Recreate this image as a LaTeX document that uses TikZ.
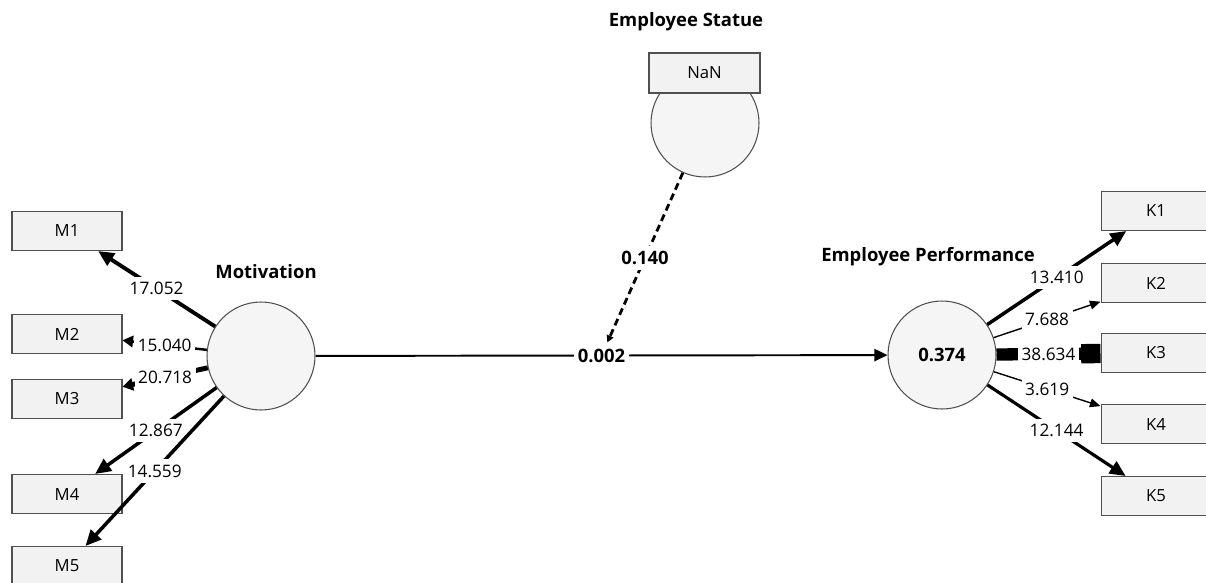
\documentclass[tikz,border=0pt]{standalone}
\usepackage{fontspec}
\setmainfont{Open Sans}
\usetikzlibrary{arrows.meta}
\definecolor{boxfill}{HTML}{F2F2F2}
\definecolor{circfill}{HTML}{F5F5F5}
\definecolor{edgecol}{HTML}{505050}
\begin{document}
\begin{tikzpicture}[x=0.02cm,y=-0.02cm,
  ind/.style={draw=edgecol, fill=boxfill, line width=0.6pt, minimum width=2.2cm, minimum height=0.78cm, inner sep=0pt, font=\fontsize{9.5}{11}\selectfont},
  lat/.style={circle, draw=edgecol, fill=circfill, line width=0.6pt, minimum size=2.16cm, inner sep=0pt, font=\bfseries\fontsize{10.5}{12}\selectfont},
  ttl/.style={font=\bfseries\fontsize{10.5}{12}\selectfont},
  lbl/.style={fill=white, inner xsep=2pt, inner ysep=3pt, font=\fontsize{9.8}{11}\selectfont},
  blbl/.style={fill=white, inner xsep=2pt, inner ysep=3pt, font=\bfseries\fontsize{10.5}{12}\selectfont},
  bighead/.style={-{Triangle[length=9pt,width=8pt]}},
  midhead/.style={-{Triangle[length=6pt,width=6.5pt]}},
  smallhead/.style={-{Triangle[length=6pt,width=5pt]}},
  blockhead/.style={-{Rectangle[length=11pt,width=11pt]}}
]
\useasboundingbox (0,0) rectangle (1206,582);
\clip (0,0) rectangle (1206,582);

% latent variables
\node[lat] (mot) at (261,356) {};
\node[lat] (perf) at (942,355) {0.374};
\node[lat] (stat) at (705,123) {};
\node[ind, minimum width=2.22cm, minimum height=0.8cm] (nan) at (704.5,73) {NaN};

% titles
\node[ttl] (tmot) at (266,272) {Motivation};
\node[ttl] (tperf) at (928,257) {Employee Performance};
\node[ttl] (tstat) at (686,22) {Employee Statue};

% indicators
\node[ind] (m1) at (67,231) {M1};
\node[ind] (m2) at (67,334) {M2};
\node[ind] (m3) at (67,399) {M3};
\node[ind] (m4) at (67,494) {M4};
\node[ind] (m5) at (67,566) {M5};
\node[ind] (k1) at (1156,211) {K1};
\node[ind] (k2) at (1156,283) {K2};
\node[ind] (k3) at (1156,353) {K3};
\node[ind] (k4) at (1156,424) {K4};
\node[ind] (k5) at (1156,496) {K5};

% outer loadings (Motivation)
\draw[line width=2.2pt, bighead] (mot) -- node[lbl] {17.052} (m1);
\draw[line width=1.4pt, midhead] (mot) -- node[lbl] {15.040} (m2);
\draw[line width=2.8pt, -{Triangle[length=6pt,width=7pt]}] (mot) -- node[lbl] {20.718} (m3);
\draw[line width=2pt, bighead] (mot) -- node[lbl] {12.867} (m4);
\draw[line width=2pt, bighead] (mot) -- node[lbl] {14.559} (m5);

% outer loadings (Employee Performance)
\draw[line width=2pt, bighead] (perf) -- node[lbl] {13.410} (k1);
\draw[line width=0.8pt, smallhead] (perf) -- node[lbl] {7.688} (k2);
\draw[line width=7pt, blockhead] (perf) -- node[lbl] {38.634} (k3);
\draw[line width=0.8pt, smallhead] (perf) -- node[lbl] {3.619} (k4);
\draw[line width=1.8pt, bighead] (perf) -- node[lbl] {12.144} (k5);

% structural path
\draw[line width=1.1pt, -{Triangle[length=7.5pt,width=7pt]}] (mot) -- node[blbl] (l002) {0.002} (perf);

% moderating effect
\draw[line width=1.6pt, dash pattern=on 4pt off 2.5pt, -{Triangle[length=4pt,width=4pt]}] (stat) -- node[blbl] {0.140} (l002);
\end{tikzpicture}
\end{document}
